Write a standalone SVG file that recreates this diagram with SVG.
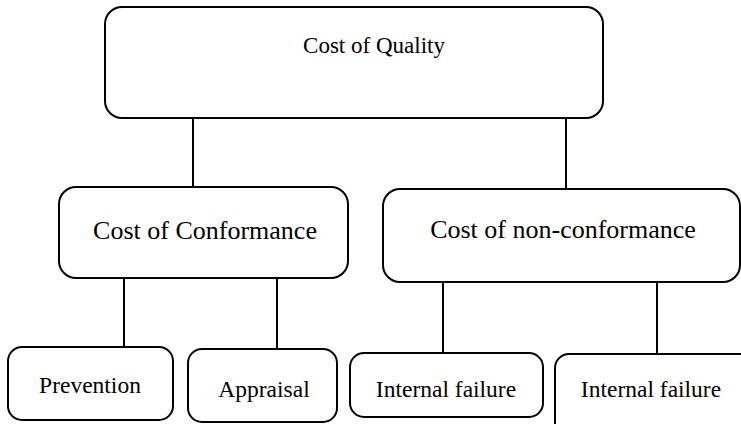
<svg xmlns="http://www.w3.org/2000/svg" width="741" height="424" viewBox="0 0 741 424">
<style>
.box{fill:#fff;stroke:#000;stroke-width:2}
.con{stroke:#000;stroke-width:2;fill:none}
</style>
<rect width="741" height="424" fill="#fff"/>
<g id="connectors">
<line class="con" x1="193" y1="118" x2="193" y2="187"/>
<line class="con" x1="566" y1="118" x2="566" y2="189"/>
<line class="con" x1="124" y1="278" x2="124" y2="347"/>
<line class="con" x1="277" y1="278" x2="277" y2="349"/>
<line class="con" x1="443" y1="282" x2="443" y2="353"/>
<line class="con" x1="657" y1="282" x2="657" y2="354"/>
</g>
<g id="cost-of-quality">
<rect class="box" x="105" y="7" width="498" height="111" rx="17"/>
<text font-family="Liberation Serif" font-size="23" text-anchor="middle" fill="#000" x="374" y="53">Cost of Quality</text>
</g>
<g id="cost-of-conformance">
<rect class="box" x="59" y="187" width="289" height="91" rx="17"/>
<text font-family="Liberation Serif" font-size="26" text-anchor="middle" fill="#000" x="205" y="239">Cost of Conformance</text>
</g>
<g id="cost-of-non-conformance">
<rect class="box" x="383" y="189" width="357" height="93" rx="17"/>
<text font-family="Liberation Serif" font-size="26" text-anchor="middle" fill="#000" x="563" y="238">Cost of non-conformance</text>
</g>
<g id="prevention">
<rect class="box" x="8" y="347" width="165" height="73" rx="14"/>
<text font-family="Liberation Serif" font-size="23.5" text-anchor="middle" fill="#000" x="90" y="393">Prevention</text>
</g>
<g id="appraisal">
<rect class="box" x="188" y="349" width="149" height="73" rx="14"/>
<text font-family="Liberation Serif" font-size="23.5" text-anchor="middle" fill="#000" x="264" y="397">Appraisal</text>
</g>
<g id="internal-failure-1">
<rect class="box" x="350" y="353" width="193" height="64" rx="14"/>
<text font-family="Liberation Serif" font-size="23.5" text-anchor="middle" fill="#000" x="446" y="397">Internal failure</text>
</g>
<g id="internal-failure-2">
<rect class="box" x="555" y="354" width="200" height="90" rx="14"/>
<text font-family="Liberation Serif" font-size="23.5" text-anchor="middle" fill="#000" x="651" y="397">Internal failure</text>
</g>
</svg>
